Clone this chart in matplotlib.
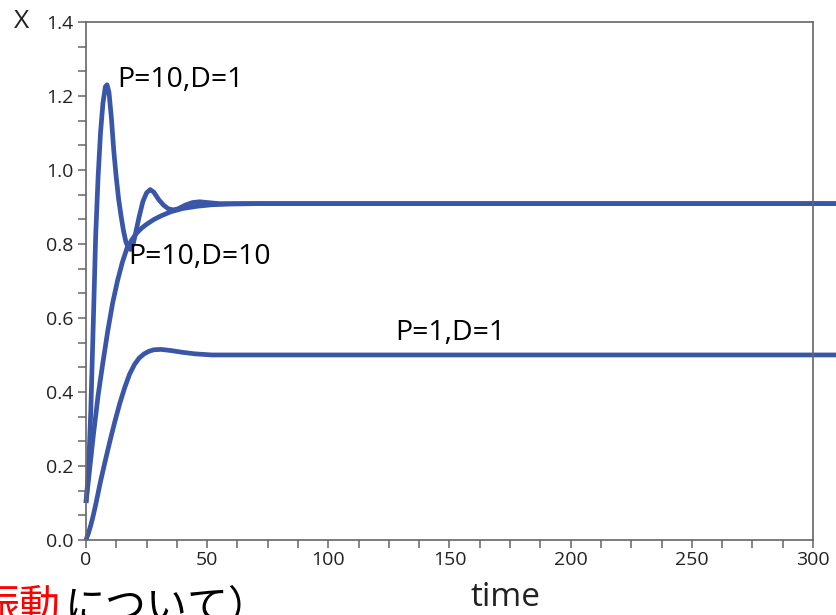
import numpy as np
import matplotlib.pyplot as plt
from matplotlib.ticker import MultipleLocator, FormatStrFormatter

plt.rcParams['font.family'] = ['Open Sans', 'Noto Sans CJK JP', 'DejaVu Sans']

# P=10, D=1
t_a = [0, 1, 2, 3, 4, 5, 6, 7, 8, 8.7, 9.5, 10.5, 11.5, 12.5, 13.5, 14.5, 15.5, 16.5,
       17.5, 18.3, 19.5, 20.5, 22, 23.5, 25, 26.5, 28, 30, 32, 34, 36, 38, 41, 44, 47,
       50, 55, 60, 100, 309.5]
x_a = [0.10, 0.18, 0.35, 0.58, 0.82, 0.98, 1.10, 1.18, 1.225, 1.23, 1.21, 1.14, 1.05,
       0.98, 0.92, 0.875, 0.835, 0.805, 0.79, 0.785, 0.80, 0.83, 0.875, 0.915, 0.938,
       0.947, 0.94, 0.92, 0.905, 0.895, 0.892, 0.895, 0.905, 0.912, 0.914, 0.912, 0.909,
       0.909, 0.909, 0.909]

# P=10, D=10
t_b = [0, 1, 2, 3, 4, 5, 7, 9, 11, 13, 15, 17, 19, 21, 23, 25, 28, 31, 35, 40, 46, 52,
       60, 70, 309.5]
x_b = [0.10, 0.16, 0.22, 0.28, 0.335, 0.39, 0.48, 0.565, 0.64, 0.70, 0.75, 0.79, 0.812,
       0.83, 0.843, 0.853, 0.866, 0.876, 0.887, 0.896, 0.902, 0.906, 0.908, 0.909, 0.909]

# P=1, D=1
t_c = [0, 1, 2, 3, 4, 6, 8, 10, 12, 14, 16, 18, 20, 22, 24, 26, 28, 31, 35, 40, 45, 52,
       60, 309.5]
x_c = [0.0, 0.018, 0.04, 0.066, 0.095, 0.158, 0.215, 0.27, 0.322, 0.37, 0.412, 0.448,
       0.474, 0.492, 0.503, 0.51, 0.514, 0.515, 0.512, 0.507, 0.503, 0.50, 0.50, 0.50]

line_color = '#3a56a8'
axis_color = '#666666'

fig = plt.figure(figsize=(8.37, 6.15), dpi=100)
ax = fig.add_axes([0.1027, 0.122, 0.8686, 0.8423])

for t, x in [(t_c, x_c), (t_b, x_b), (t_a, x_a)]:
    ax.plot(t, x, color=line_color, lw=3.4, solid_capstyle='butt', clip_on=False)

ax.set_xlim(0, 300)
ax.set_ylim(0, 1.4)
ax.xaxis.set_major_locator(MultipleLocator(50))
ax.xaxis.set_minor_locator(MultipleLocator(12.5))
ax.yaxis.set_major_locator(MultipleLocator(0.2))
ax.yaxis.set_minor_locator(MultipleLocator(0.2 / 3))
ax.yaxis.set_major_formatter(FormatStrFormatter('%.1f'))

for s in ax.spines.values():
    s.set_color(axis_color)
    s.set_linewidth(1.2)
ax.tick_params(which='both', direction='out', color=axis_color, width=1.1,
               length=6, labelsize=14, labelcolor='#222222')
ax.tick_params(axis='x', pad=2)
ax.tick_params(axis='y', pad=3)

ax.text(12.8, 1.243, 'P=10,D=1', fontsize=20.5, va='center', ha='left')
ax.text(17.3, 0.765, 'P=10,D=10', fontsize=20.5, va='center', ha='left')
ax.text(127.5, 0.56, 'P=1,D=1', fontsize=20.5, va='center', ha='left')

fig.text(22 / 837, 1 - 22 / 615, 'X', fontsize=19, ha='center', va='center', color='#222222')
fig.text(506 / 837, 1 - 597 / 615, 'time', fontsize=24, ha='center', va='center', color='#222222')

fig.text(61 / 837, 1 - 588 / 615, '振動', fontsize=29.5, color='red', ha='right', va='top',
         family=['Noto Sans CJK JP'])
fig.text(65 / 837, 1 - 588 / 615, 'について）', fontsize=29.5, color='black', ha='left', va='top',
         family=['Noto Sans CJK JP'])

fig.savefig('out.png', dpi=100)
